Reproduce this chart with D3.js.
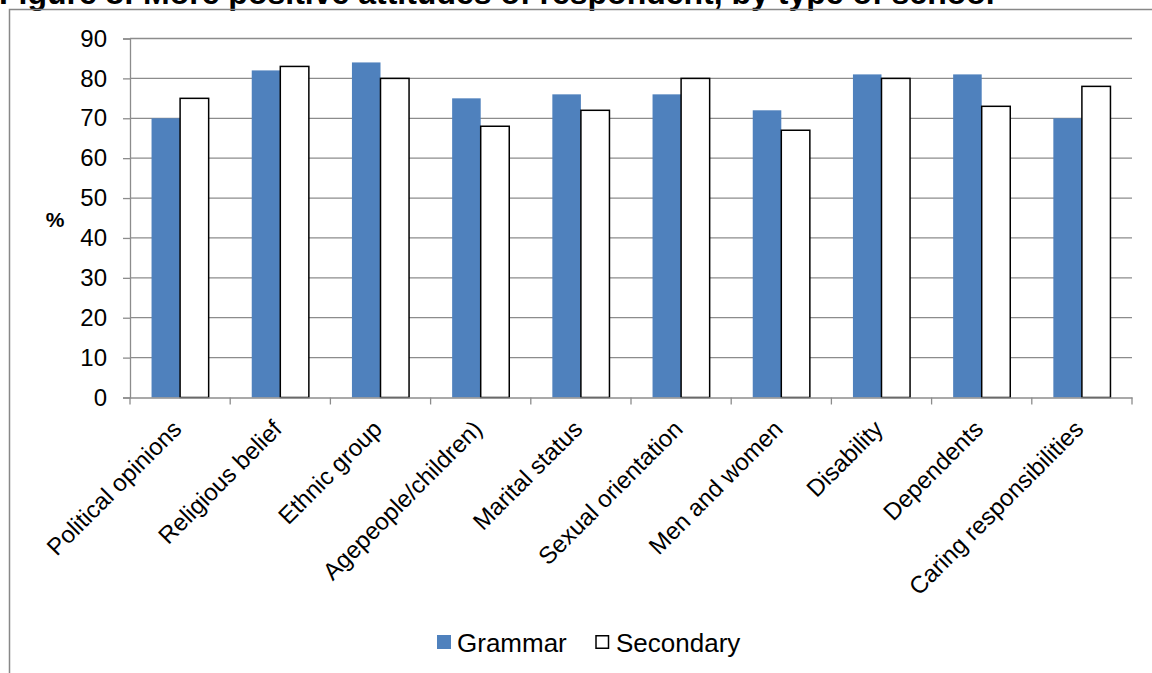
<!DOCTYPE html>
<html>
<head>
<meta charset="utf-8">
<script src="https://cdn.jsdelivr.net/npm/d3@7"></script>
<style>
body { margin: 0; background: #fff; }
svg { display: block; font-family: "Liberation Sans", Arial, sans-serif; }
</style>
</head>
<body>
<svg id="svg"></svg>
<script>
var width = 1152, height = 673;

var categories = ["Political opinions", "Religious belief", "Ethnic group", "Agepeople/children)",
	"Marital status", "Sexual orientation", "Men and women", "Disability", "Dependents",
	"Caring responsibilities"];
var grammar = [70, 82, 84, 75, 76, 76, 72, 81, 81, 70];
var secondary = [75, 83, 80, 68, 72, 80, 67, 80, 73, 78];
var yTicks = [0, 10, 20, 30, 40, 50, 60, 70, 80, 90];
var seriesNames = ["Grammar", "Secondary"];

var svg = d3.select("#svg")
	.attr("width", width)
	.attr("height", height);

// title, clipped at the top like the source
svg.append("text")
	.attr("x", -1)
	.attr("y", 4)
	.attr("font-size", "32px")
	.attr("font-weight", "bold")
	.text("Figure 8: More positive attitudes of respondent, by type of school");

// outer frame
svg.append("rect")
	.attr("x", 9.5)
	.attr("y", 9.5)
	.attr("width", 1160)
	.attr("height", 700)
	.attr("fill", "none")
	.attr("stroke", "#888")
	.attr("stroke-width", 1.5);

var x = d3.scaleBand()
	.domain(categories)
	.range([130, 1132]);

var y = d3.scaleLinear()
	.domain([0, 90])
	.range([397.5, 38.5]);

var barW = x.bandwidth() * 0.285;

// gridlines
svg.append("g")
	.selectAll("line")
	.data(yTicks.slice(1))
	.enter()
	.append("line")
	.attr("x1", 130)
	.attr("x2", 1132)
	.attr("y1", function(d) { return y(d); })
	.attr("y2", function(d) { return y(d); })
	.attr("stroke", "#8c8c8c")
	.attr("stroke-width", 1.3);

// bars
var groups = svg.append("g")
	.selectAll("g")
	.data(categories)
	.enter()
	.append("g");

groups.append("rect")
	.attr("x", function(d) { return x(d) + x.bandwidth() / 2 - barW; })
	.attr("y", function(d, i) { return y(grammar[i]); })
	.attr("width", barW)
	.attr("height", function(d, i) { return y(0) - y(grammar[i]); })
	.attr("fill", "#4f81bd");

groups.append("rect")
	.attr("x", function(d) { return x(d) + x.bandwidth() / 2; })
	.attr("y", function(d, i) { return y(secondary[i]); })
	.attr("width", barW)
	.attr("height", function(d, i) { return y(0) - y(secondary[i]); })
	.attr("fill", "#fff")
	.attr("stroke", "#000")
	.attr("stroke-width", 1.5);

// y axis
var yAxis = d3.axisLeft(y)
	.tickValues(yTicks)
	.tickSize(7)
	.tickPadding(16);

var gy = svg.append("g")
	.attr("transform", "translate(130,0)")
	.call(yAxis);
gy.selectAll("path, line").attr("stroke", "#8c8c8c").attr("stroke-width", 1.3);
gy.selectAll("text").attr("font-size", "24px").attr("fill", "#000")
	.attr("font-family", "Liberation Sans, Arial, sans-serif");

// x axis
var xAxis = d3.axisBottom(x).tickSize(0).tickFormat("");
var gx = svg.append("g")
	.attr("transform", "translate(0," + y(0) + ")")
	.call(xAxis);
gx.select("path").attr("stroke", "#8c8c8c").attr("stroke-width", 1.3);

var bounds = categories.map(function(d) { return x(d); }).concat([1132]);
gx.selectAll("line.sep")
	.data(bounds)
	.enter()
	.append("line")
	.attr("class", "sep")
	.attr("x1", function(d) { return d; })
	.attr("x2", function(d) { return d; })
	.attr("y1", 0)
	.attr("y2", 7)
	.attr("stroke", "#8c8c8c")
	.attr("stroke-width", 1.3);

// category labels rotated
svg.append("g")
	.selectAll("text")
	.data(categories)
	.enter()
	.append("text")
	.attr("transform", function(d) {
		return "translate(" + (x(d) + x.bandwidth() / 2 + 3) + "," + (y(0) + 33) + ") rotate(-45)";
	})
	.attr("text-anchor", "end")
	.attr("font-size", "24px")
	.text(function(d) { return d; });

// y label
svg.append("text")
	.attr("x", 55)
	.attr("y", 227)
	.attr("text-anchor", "middle")
	.attr("font-size", "21px")
	.attr("font-weight", "bold")
	.text("%");

// legend
var legend = svg.append("g");
var legX = [437, 596];
legend.selectAll("rect")
	.data(seriesNames)
	.enter()
	.append("rect")
	.attr("x", function(d, i) { return legX[i]; })
	.attr("y", function(d, i) { return i == 0 ? 635 : 635.75; })
	.attr("width", function(d, i) { return i == 0 ? 14 : 12.5; })
	.attr("height", function(d, i) { return i == 0 ? 14 : 12.5; })
	.attr("fill", function(d, i) { return i == 0 ? "#4f81bd" : "#fff"; })
	.attr("stroke", function(d, i) { return i == 0 ? "none" : "#000"; })
	.attr("stroke-width", 1.5);

legend.selectAll("text")
	.data(seriesNames)
	.enter()
	.append("text")
	.attr("x", function(d, i) { return legX[i] + 20; })
	.attr("y", 652)
	.attr("font-size", "26px")
	.text(function(d) { return d; });
</script>
</body>
</html>
